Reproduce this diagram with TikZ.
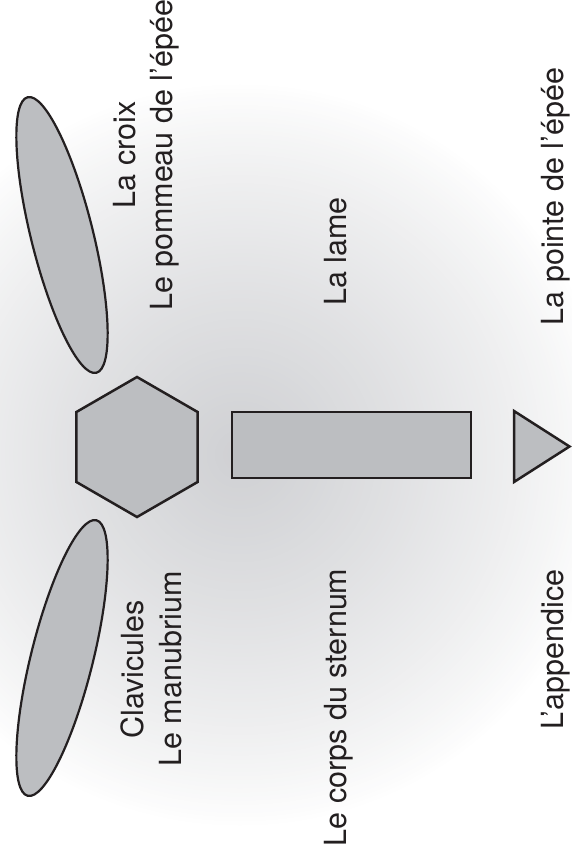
\documentclass[tikz,border=0pt]{standalone}
\usepackage{fontspec}
\setmainfont{TeX Gyre Heros}

\definecolor{ink}{RGB}{35,31,32}
\definecolor{bonefill}{RGB}{188,190,193}
\definecolor{bgmid}{RGB}{207,208,211}

\tikzset{
  part/.style={draw=ink, fill=bonefill, line width=2.5pt, line join=miter},
  thinpart/.style={part, line width=2.2pt},
  lbl/.style={rotate=90, anchor=base, inner sep=0pt, text=ink,
              font=\fontsize{30.5}{37}\selectfont}
}

\begin{document}
\begin{tikzpicture}[x=1pt,y=-1pt]
  \useasboundingbox (0,0) rectangle (572,858);

  % background: soft grey glow fading to white, built from concentric discs
  \begin{scope}
    \clip (0,0) rectangle (572,858);
    \fill[white] (0,0) rectangle (572,858);
    \foreach \i in {0,...,89}{
      \pgfmathsetmacro\rad{370*(1-\i/90)}
      \pgfmathsetmacro\wt{100*(1-(\rad-2)/370)^0.8}
      \fill[bgmid!\wt!white] (240,455) circle (\rad);
    }
  \end{scope}

  % clavicles / cross-guard
  \draw[thinpart, rotate around={14:(62,235)}] (62,235) ellipse [x radius=31, y radius=142];
  \draw[thinpart, rotate around={-14:(62,658)}] (62,658) ellipse [x radius=31, y radius=142];

  % manubrium / pommel
  \draw[part] (137,377) -- (197.6,412) -- (197.6,482) -- (137,517)
              -- (76.4,482) -- (76.4,412) -- cycle;

  % body of the sternum / blade
  \draw[part] (232,412) rectangle (471,478);

  % xiphoid process / point
  \draw[part] (514,411) -- (569.5,446.5) -- (514,482) -- cycle;

  % labels
  \node[lbl] (croix)     at (135,155)   {La croix};
  \node[lbl] (pommeau)   at (172,155)   {Le pommeau de l’épée};
  \node[lbl] (lame)      at (346,251.5) {La lame};
  \node[lbl] (pointe)    at (563.5,196.5) {La pointe de l’épée};
  \node[lbl] (clav)      at (143.5,669.5) {Clavicules};
  \node[lbl] (manub)     at (181,669)   {Le manubrium};
  \node[lbl] (corps)     at (346.5,707.5) {Le corps du sternum};
  \node[lbl] (appendice) at (563.5,649.5) {L’appendice};
\end{tikzpicture}
\end{document}
